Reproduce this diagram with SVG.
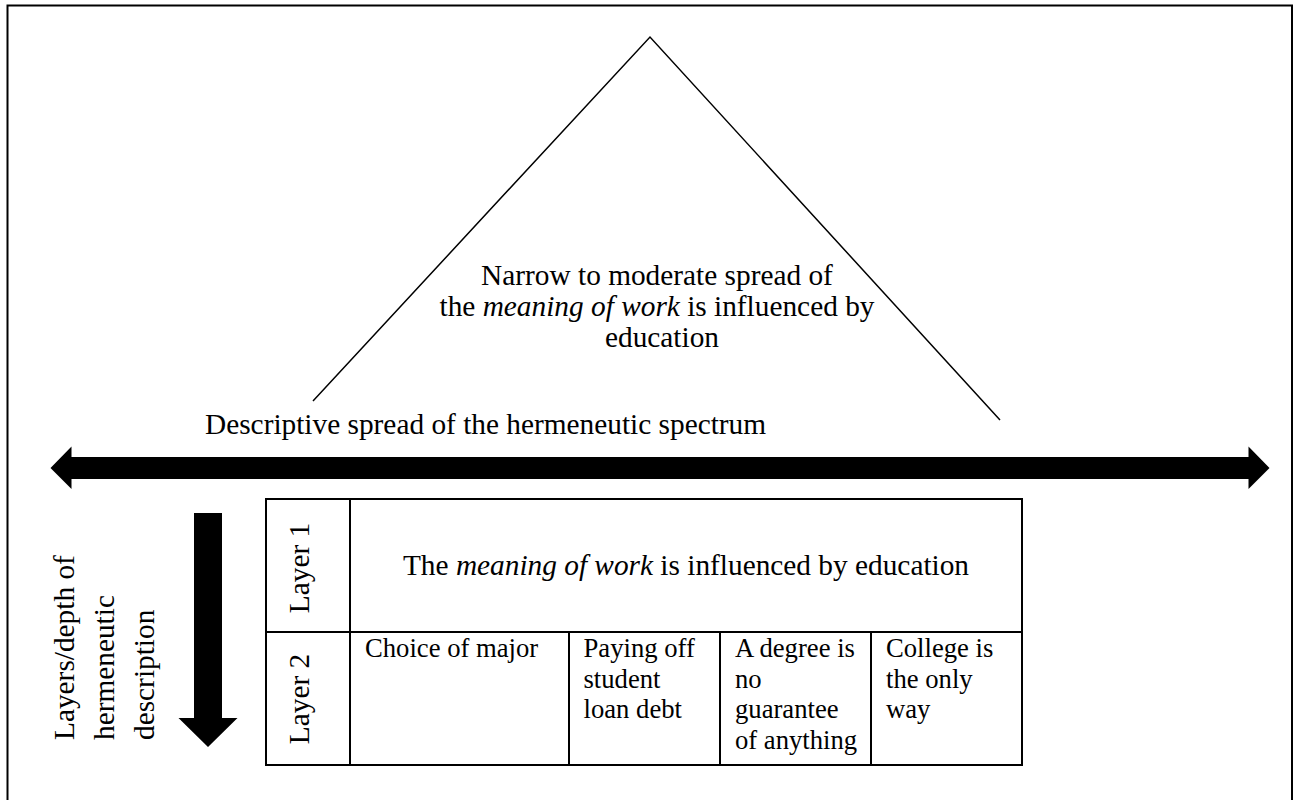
<svg xmlns="http://www.w3.org/2000/svg" width="1294" height="800" viewBox="0 0 1294 800">
  <style>
    text { font-family: "Liberation Serif", "Times New Roman", serif; fill: #000; }
    .big { font-size: 29.33px; }
    .cell { font-size: 26.67px; }
    .mid { text-anchor: middle; }
    .line { fill: none; stroke: #000; stroke-width: 1.5; }
    .grid { fill: none; stroke: #000; stroke-width: 2; }
    .solid { fill: #000; stroke: none; }
  </style>
  <rect width="1294" height="800" fill="#fff"/>
  <!-- outer frame, open at the bottom -->
  <path d="M7.5 806 V5.5 H1292 V806" class="grid"/>

  <!-- pyramid outline -->
  <g id="pyramid">
    <polyline points="313,401 650,37 1000,420" class="line"/>
    <text class="big mid" x="657" y="285">Narrow to moderate spread of</text>
    <text class="big mid" x="657" y="316">the <tspan font-style="italic">meaning of work</tspan> is influenced by</text>
    <text class="big mid" x="662" y="347">education</text>
  </g>

  <g id="spectrum-label">
    <text class="big" x="205" y="434">Descriptive spread of the hermeneutic spectrum</text>
  </g>

  <g id="connectors">
    <!-- two-headed horizontal spectrum arrow -->
    <polygon class="solid" points="50.5,468 71.5,446.5 71.5,457 1248.5,457 1248.5,446.5 1269.5,468 1248.5,489 1248.5,479 71.5,479 71.5,489"/>
    <!-- downward depth arrow -->
    <polygon class="solid" points="194,513 222,513 222,718 237.5,718 208,747 178.5,718 194,718"/>
  </g>

  <g id="depth-label">
    <text class="big" transform="translate(74,740) rotate(-90)">Layers/depth of</text>
    <text class="big" transform="translate(114,740) rotate(-90)">hermeneutic</text>
    <text class="big" transform="translate(154,740) rotate(-90)">description</text>
  </g>

  <!-- layer table -->
  <g id="layer-table">
    <rect x="266" y="499" width="756" height="266" class="grid"/>
    <line x1="350" y1="499" x2="350" y2="765" class="grid"/>
    <line x1="266" y1="632" x2="1022" y2="632" class="grid"/>
    <line x1="569" y1="632" x2="569" y2="765" class="grid"/>
    <line x1="720" y1="632" x2="720" y2="765" class="grid"/>
    <line x1="871" y1="632" x2="871" y2="765" class="grid"/>
  </g>

  <g id="layer-1">
    <text class="big mid" transform="translate(309,568) rotate(-90)">Layer 1</text>
    <text class="big mid" x="686" y="575">The <tspan font-style="italic">meaning of work</tspan> is influenced by education</text>
  </g>

  <g id="layer-2">
    <text class="big mid" transform="translate(309,699) rotate(-90)">Layer 2</text>
  </g>

  <g id="choice-of-major">
    <text class="cell" x="365" y="657">Choice of major</text>
  </g>
  <g id="student-loan">
    <text class="cell" x="583.5" y="657">Paying off</text>
    <text class="cell" x="583.5" y="687.5">student</text>
    <text class="cell" x="583.5" y="718">loan debt</text>
  </g>
  <g id="no-guarantee">
    <text class="cell" x="735" y="657">A degree is</text>
    <text class="cell" x="735" y="687.5">no</text>
    <text class="cell" x="735" y="718">guarantee</text>
    <text class="cell" x="735" y="748.5">of anything</text>
  </g>
  <g id="only-way">
    <text class="cell" x="886" y="657">College is</text>
    <text class="cell" x="886" y="687.5">the only</text>
    <text class="cell" x="886" y="718">way</text>
  </g>
</svg>
